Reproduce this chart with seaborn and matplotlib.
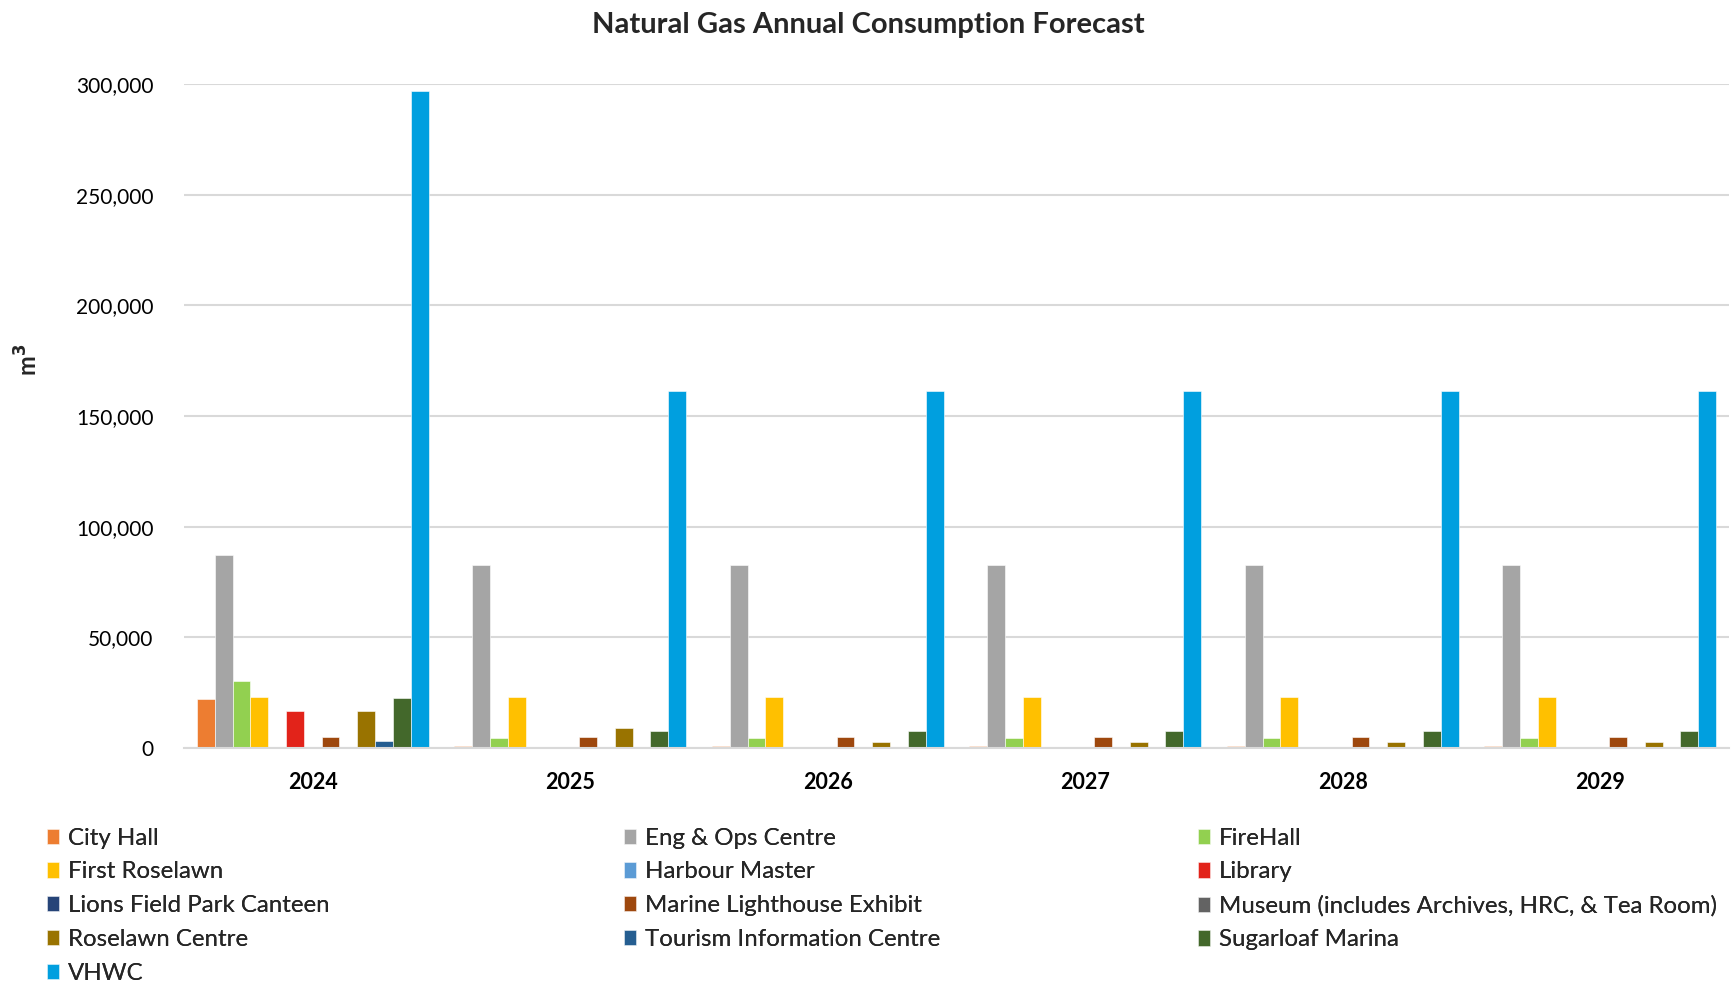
import matplotlib
matplotlib.use("Agg")
import matplotlib.pyplot as plt
import seaborn as sns
import pandas as pd
from matplotlib.ticker import FuncFormatter

years = ["2024", "2025", "2026", "2027", "2028", "2029"]
sites = ["City Hall", "Eng & Ops Centre", "FireHall", "First Roselawn", "Harbour Master",
         "Library", "Lions Field Park Canteen", "Marine Lighthouse Exhibit",
         "Museum (includes Archives, HRC, & Tea Room)", "Roselawn Centre",
         "Tourism Information Centre", "Sugarloaf Marina", "VHWC"]
colors = ["#ED7D31", "#A5A5A5", "#92D050", "#FFC000", "#5B9BD5", "#E2231A", "#264478",
          "#9E480E", "#636363", "#997300", "#255E91", "#43682B", "#009FDF"]

city_hall = [22000, 900, 900, 900, 900, 900]
eng_ops = [87000, 82500, 82500, 82500, 82500, 82500]
firehall = [30100, 4500, 4500, 4500, 4500, 4500]
first_roselawn = [23200, 23200, 23200, 23200, 23200, 23200]
harbour_master = [0, 0, 0, 0, 0, 0]
library = [16900, 300, 300, 300, 300, 300]
lions_field = [0, 0, 0, 0, 0, 0]
marine = [4800, 4800, 4800, 4800, 4800, 4800]
museum = [400, 500, 600, 600, 600, 600]
roselawn_centre = [16900, 9000, 2850, 2850, 2850, 2850]
tourism = [3200, 100, 100, 100, 100, 100]
sugarloaf = [22400, 7800, 7800, 7800, 7800, 7800]
vhwc = [296800, 161500, 161500, 161500, 161500, 161500]

series = [city_hall, eng_ops, firehall, first_roselawn, harbour_master, library, lions_field,
          marine, museum, roselawn_centre, tourism, sugarloaf, vhwc]

rows = []
for s, vals in zip(sites, series):
    for y, v in zip(years, vals):
        rows.append({"Year": y, "Site": s, "Value": v})
df = pd.DataFrame(rows)

sns.set_theme(style="white")
FONT = ["Lato", "DejaVu Sans"]
plt.rcParams["font.family"] = FONT

fig = plt.figure(figsize=(17.36, 9.81), dpi=100)
ax = fig.add_axes([184 / 1736, 1 - 748 / 981, (1729 - 184) / 1736, (748 - 84) / 981])

sns.barplot(data=df, x="Year", y="Value", hue="Site", hue_order=sites, order=years,
            palette=colors, saturation=1, width=0.9, gap=0, ax=ax, edgecolor="white",
            linewidth=0.4, legend=True)

ax.set_ylim(0, 300000)
ax.set_xlim(-0.5, 5.5)
ax.set_yticks(range(0, 300001, 50000))
ax.yaxis.set_major_formatter(FuncFormatter(lambda v, p: f"{int(v):,}"))
ax.grid(axis="y", color="#D9D9D9", linewidth=1.5)
ax.set_axisbelow(True)
for sp in ["left", "right", "top"]:
    ax.spines[sp].set_visible(False)
ax.spines["bottom"].set_color("#D9D9D9")
ax.spines["bottom"].set_linewidth(1.5)
ax.tick_params(axis="both", length=0)
ax.tick_params(axis="y", labelsize=15, pad=22, labelcolor="black")
ax.tick_params(axis="x", labelsize=15.5, pad=17, labelcolor="black")
for lbl in ax.get_xticklabels():
    lbl.set_fontweight("bold")
ax.set_xlabel("")
ax.set_ylabel("m$^\\mathbf{3}$", fontsize=17, fontweight="bold")
ax.yaxis.set_label_coords(-0.092, 0.585)

fig.suptitle("Natural Gas Annual Consumption Forecast", fontsize=21, fontweight="bold", y=0.988)

handles, labels = ax.get_legend_handles_labels()
ax.get_legend().remove()
col_x = [37 / 1736, 614 / 1736, 1188 / 1736]
for c in range(3):
    idx = list(range(c, len(sites), 3))
    leg = fig.legend([handles[i] for i in idx], [labels[i] for i in idx],
                     loc="upper left", bbox_to_anchor=(col_x[c], 0.166), frameon=False,
                     fontsize=17.3, handlelength=0.5, handleheight=0.6, handletextpad=0.4,
                     labelspacing=0.53, borderpad=0.4, borderaxespad=0)
    fig.add_artist(leg)

fig.savefig("out.png", dpi=100)
